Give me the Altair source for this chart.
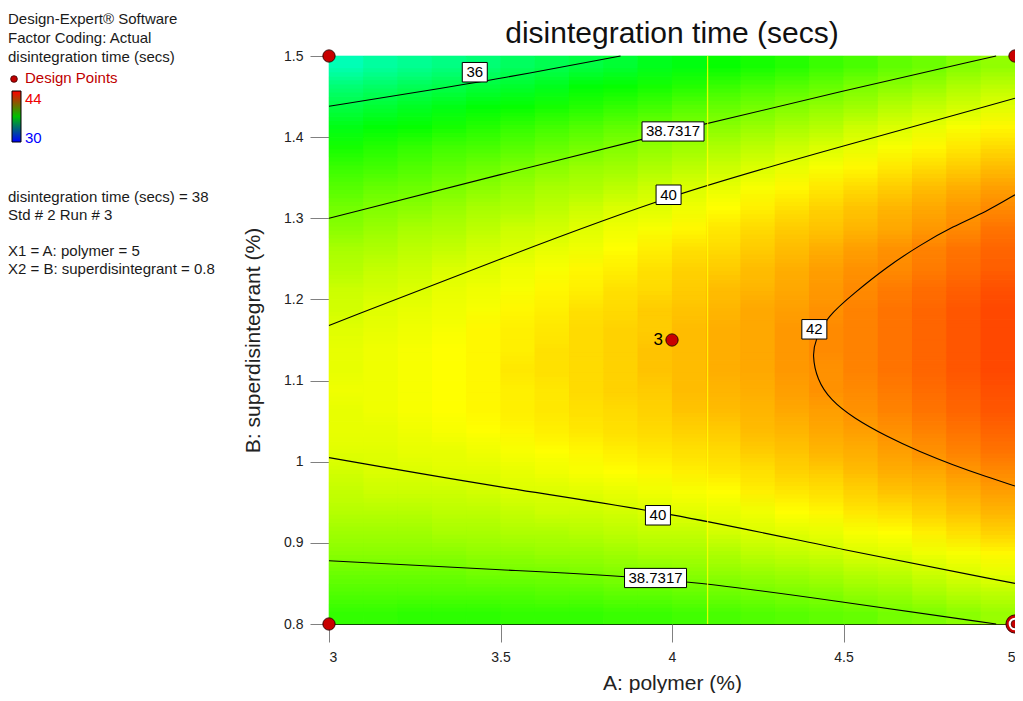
import altair as alt
import pandas as pd

# ---------------- data ----------------
# cell edges of the response-surface raster
A_EDGES = [3.0, 3.1, 3.2, 3.3, 3.4, 3.5, 3.6, 3.7, 3.8, 3.9, 4.0,
           4.1, 4.2, 4.3, 4.4, 4.5, 4.6, 4.7, 4.8, 4.9, 5.0]
B_EDGES = [0.8, 0.825, 0.85, 0.875, 0.9, 0.925, 0.95, 0.975, 1.0, 1.025,
           1.05, 1.075, 1.1, 1.125, 1.15, 1.175, 1.2, 1.225, 1.25, 1.275,
           1.3, 1.325, 1.35, 1.375, 1.4, 1.425, 1.45, 1.475, 1.5]

# disintegration time (secs) per cell, rows = B (bottom to top), columns = A (left to right)
Z = [
    [37.7, 37.7, 37.6, 37.6, 37.6, 37.7, 37.7, 37.7, 37.8, 37.8, 37.9, 38.0, 38.1, 38.2, 38.3, 38.4, 38.6, 38.7, 38.9, 39.1],
    [38.1, 38.1, 38.1, 38.1, 38.1, 38.1, 38.2, 38.2, 38.3, 38.3, 38.4, 38.5, 38.6, 38.7, 38.8, 39.0, 39.1, 39.3, 39.5, 39.6],
    [38.5, 38.5, 38.5, 38.5, 38.6, 38.6, 38.6, 38.7, 38.8, 38.8, 38.9, 39.0, 39.1, 39.2, 39.3, 39.5, 39.6, 39.8, 40.0, 40.2],
    [38.9, 38.9, 38.9, 38.9, 39.0, 39.0, 39.1, 39.1, 39.2, 39.3, 39.3, 39.4, 39.6, 39.7, 39.8, 40.0, 40.1, 40.3, 40.4, 40.6],
    [39.2, 39.2, 39.2, 39.3, 39.3, 39.4, 39.4, 39.5, 39.6, 39.7, 39.7, 39.9, 40.0, 40.1, 40.2, 40.4, 40.5, 40.7, 40.9, 41.1],
    [39.5, 39.5, 39.5, 39.6, 39.6, 39.7, 39.8, 39.8, 39.9, 40.0, 40.1, 40.2, 40.3, 40.5, 40.6, 40.8, 40.9, 41.1, 41.3, 41.5],
    [39.7, 39.8, 39.8, 39.8, 39.9, 40.0, 40.0, 40.1, 40.2, 40.3, 40.4, 40.5, 40.7, 40.8, 40.9, 41.1, 41.3, 41.4, 41.6, 41.8],
    [39.9, 40.0, 40.0, 40.1, 40.1, 40.2, 40.3, 40.4, 40.5, 40.6, 40.7, 40.8, 40.9, 41.1, 41.2, 41.4, 41.6, 41.7, 41.9, 42.1],
    [40.1, 40.1, 40.2, 40.2, 40.3, 40.4, 40.5, 40.6, 40.7, 40.8, 40.9, 41.0, 41.2, 41.3, 41.5, 41.6, 41.8, 42.0, 42.2, 42.4],
    [40.2, 40.2, 40.3, 40.4, 40.5, 40.6, 40.7, 40.8, 40.9, 41.0, 41.1, 41.2, 41.4, 41.5, 41.7, 41.8, 42.0, 42.2, 42.4, 42.6],
    [40.2, 40.3, 40.4, 40.5, 40.6, 40.7, 40.8, 40.9, 41.0, 41.1, 41.3, 41.4, 41.5, 41.7, 41.8, 42.0, 42.2, 42.4, 42.6, 42.8],
    [40.3, 40.3, 40.4, 40.5, 40.6, 40.7, 40.8, 41.0, 41.1, 41.2, 41.4, 41.5, 41.6, 41.8, 42.0, 42.1, 42.3, 42.5, 42.7, 42.9],
    [40.2, 40.3, 40.4, 40.5, 40.6, 40.8, 40.9, 41.0, 41.1, 41.3, 41.4, 41.6, 41.7, 41.9, 42.0, 42.2, 42.4, 42.6, 42.8, 43.0],
    [40.2, 40.3, 40.4, 40.5, 40.6, 40.7, 40.9, 41.0, 41.1, 41.3, 41.4, 41.6, 41.7, 41.9, 42.1, 42.2, 42.4, 42.6, 42.8, 43.0],
    [40.1, 40.2, 40.3, 40.4, 40.6, 40.7, 40.8, 41.0, 41.1, 41.2, 41.4, 41.6, 41.7, 41.9, 42.1, 42.2, 42.4, 42.6, 42.8, 43.0],
    [39.9, 40.1, 40.2, 40.3, 40.4, 40.6, 40.7, 40.9, 41.0, 41.2, 41.3, 41.5, 41.7, 41.8, 42.0, 42.2, 42.4, 42.6, 42.8, 43.0],
    [39.8, 39.9, 40.0, 40.2, 40.3, 40.4, 40.6, 40.7, 40.9, 41.0, 41.2, 41.4, 41.5, 41.7, 41.9, 42.1, 42.3, 42.5, 42.7, 42.9],
    [39.5, 39.7, 39.8, 40.0, 40.1, 40.3, 40.4, 40.6, 40.7, 40.9, 41.1, 41.2, 41.4, 41.6, 41.8, 42.0, 42.1, 42.3, 42.5, 42.7],
    [39.3, 39.4, 39.6, 39.7, 39.9, 40.0, 40.2, 40.3, 40.5, 40.7, 40.9, 41.0, 41.2, 41.4, 41.6, 41.8, 42.0, 42.2, 42.4, 42.6],
    [38.9, 39.1, 39.3, 39.4, 39.6, 39.8, 39.9, 40.1, 40.3, 40.4, 40.6, 40.8, 41.0, 41.2, 41.3, 41.5, 41.7, 41.9, 42.1, 42.4],
    [38.6, 38.8, 38.9, 39.1, 39.3, 39.4, 39.6, 39.8, 40.0, 40.1, 40.3, 40.5, 40.7, 40.9, 41.1, 41.3, 41.5, 41.7, 41.9, 42.1],
    [38.2, 38.4, 38.5, 38.7, 38.9, 39.1, 39.3, 39.4, 39.6, 39.8, 40.0, 40.2, 40.4, 40.6, 40.8, 41.0, 41.2, 41.4, 41.6, 41.8],
    [37.8, 37.9, 38.1, 38.3, 38.5, 38.7, 38.9, 39.1, 39.2, 39.4, 39.6, 39.8, 40.0, 40.2, 40.4, 40.6, 40.8, 41.0, 41.2, 41.4],
    [37.3, 37.5, 37.7, 37.9, 38.0, 38.2, 38.4, 38.6, 38.8, 39.0, 39.2, 39.4, 39.6, 39.8, 40.0, 40.2, 40.4, 40.6, 40.8, 41.0],
    [36.7, 36.9, 37.1, 37.3, 37.5, 37.7, 37.9, 38.1, 38.3, 38.5, 38.7, 38.9, 39.1, 39.3, 39.5, 39.8, 40.0, 40.2, 40.4, 40.6],
    [36.1, 36.3, 36.5, 36.7, 36.9, 37.1, 37.3, 37.5, 37.7, 37.9, 38.2, 38.4, 38.6, 38.8, 39.0, 39.2, 39.5, 39.7, 39.9, 40.1],
    [35.4, 35.6, 35.8, 36.0, 36.2, 36.4, 36.6, 36.9, 37.1, 37.3, 37.5, 37.8, 38.0, 38.2, 38.4, 38.7, 38.9, 39.1, 39.4, 39.6],
    [34.5, 34.8, 35.0, 35.2, 35.4, 35.7, 35.9, 36.1, 36.3, 36.6, 36.8, 37.1, 37.3, 37.5, 37.8, 38.0, 38.3, 38.5, 38.8, 39.0],
]

# contour lines (A, B)
C36_A = [3.0, 3.25, 3.5, 3.85]
C36_B = [1.438, 1.455, 1.472, 1.5]
C387U_A = [3.0, 3.5, 4.0, 4.5, 4.945]
C387U_B = [1.300, 1.354, 1.407, 1.457, 1.5]
C40U_A = [3.0, 3.5, 4.0, 4.5, 5.0]
C40U_B = [1.168, 1.250, 1.330, 1.389, 1.448]
C40L_A = [3.0, 3.5, 4.0, 4.5, 5.0]
C40L_B = [1.005, 0.968, 0.937, 0.891, 0.850]
C387L_A = [3.0, 3.5, 4.0, 4.5, 4.945]
C387L_B = [0.878, 0.8665, 0.857, 0.827, 0.8]
C42_A = [5.0, 4.916, 4.819, 4.723, 4.626, 4.530, 4.452, 4.418, 4.409,
         4.423, 4.462, 4.530, 4.626, 4.723, 4.819, 4.916, 5.0]
C42_B = [1.329, 1.308, 1.290, 1.267, 1.240, 1.2075, 1.179, 1.150, 1.1315,
         1.101, 1.076, 1.0535, 1.031, 1.012, 0.996, 0.9815, 0.970]

LABEL_TEXT = ["36", "38.7317", "40", "42", "40", "38.7317"]
LABEL_A = [3.425, 4.003, 3.99, 4.415, 3.959, 3.952]
LABEL_B = [1.480, 1.407, 1.329, 1.1632, 0.934, 0.8567]

DESIGN_A = [3.0, 5.0, 3.0, 5.0, 4.0]
DESIGN_B = [1.5, 1.5, 0.8, 0.8, 1.15]
RING_A = [5.0]
RING_B = [0.8]
CENTER_A = [4.0]
CENTER_B = [1.15]
CENTER_TEXT = ["3"]
CURSOR_A = [4.104]

LEGEND_MAX = "44"
LEGEND_MIN = "30"

# ---------------- tables ----------------
cells = pd.DataFrame([
    {"A": A_EDGES[j], "A2": A_EDGES[j + 1], "B": B_EDGES[i], "B2": B_EDGES[i + 1], "z": Z[i][j]}
    for i in range(len(B_EDGES) - 1) for j in range(len(A_EDGES) - 1)
])
# sub-row shifted copies of the same cells: painting them with opacities 1, 1/2, 1/3 ...
# gives each pixel the mean of the copies, i.e. a smooth (box-filtered) rendering of the raster
ROW_H = B_EDGES[1] - B_EDGES[0]
SHIFTS = [ROW_H / 5, -ROW_H / 5, 2 * ROW_H / 5, -2 * ROW_H / 5]
for k, s in enumerate(SHIFTS):
    cells[f"Bs{k}"] = cells["B"] + s
    cells[f"B2s{k}"] = cells["B2"] + s

rows = []
for name, aa, bb in [("36", C36_A, C36_B), ("387u", C387U_A, C387U_B), ("40u", C40U_A, C40U_B),
                     ("40l", C40L_A, C40L_B), ("387l", C387L_A, C387L_B), ("42", C42_A, C42_B)]:
    for i, (a, b) in enumerate(zip(aa, bb)):
        rows.append({"name": name, "i": i, "A": a, "B": b})
lines = pd.DataFrame(rows)

labels = pd.DataFrame({"A": LABEL_A, "B": LABEL_B, "t": LABEL_TEXT})
labels["long"] = labels["t"].str.len() > 2
design = pd.DataFrame({"A": DESIGN_A, "B": DESIGN_B})
ring = pd.DataFrame({"A": RING_A, "B": RING_B})
center = pd.DataFrame({"A": CENTER_A, "B": CENTER_B, "t": CENTER_TEXT})
cursor = pd.DataFrame({"A": CURSOR_A})

FONT = "Liberation Sans"
xs = alt.Scale(domain=[3, 5], nice=False, zero=False)
ys = alt.Scale(domain=[0.8, 1.5], nice=False, zero=False)
cs = alt.Scale(domain=[30, 33.5, 37, 40.5, 44],
               range=["#0000ff", "#00ffff", "#00ff00", "#ffff00", "#ff0000"],
               interpolate="rgb")

xaxis = alt.Axis(values=[3, 3.5, 4, 4.5, 5], format=".1~f", title="A: polymer (%)",
                 tickSize=18, labelPadding=8, titlePadding=8, grid=False, domain=False)
yaxis = alt.Axis(values=[0.8, 0.9, 1.0, 1.1, 1.2, 1.3, 1.4, 1.5], format=".1~f",
                 title="B: superdisintegrant (%)", tickSize=19, labelPadding=7,
                 titlePadding=20, grid=False, domain=False)

heat = alt.Chart(cells).mark_rect(strokeWidth=0.6).encode(
    x=alt.X("A:Q", scale=xs, axis=xaxis),
    x2="A2:Q",
    y=alt.Y("B:Q", scale=ys, axis=yaxis),
    y2="B2:Q",
    color=alt.Color("z:Q", scale=cs, legend=None),
    stroke=alt.Stroke("z:Q", scale=cs, legend=None),
)
smooth_layers = [
    alt.Chart(cells).mark_rect(opacity=1.0 / (k + 2), clip=True, strokeWidth=0).encode(
        x=alt.X("A:Q", scale=xs, axis=xaxis),
        x2="A2:Q",
        y=alt.Y(f"Bs{k}:Q", scale=ys, axis=yaxis),
        y2=f"B2s{k}:Q",
        color=alt.Color("z:Q", scale=cs, legend=None),
    )
    for k in range(len(SHIFTS))
]

cont = alt.Chart(lines).mark_line(color="black", strokeWidth=1.1, interpolate="basis").encode(
    x=alt.X("A:Q", scale=xs), y=alt.Y("B:Q", scale=ys), detail="name:N", order="i:Q")

cur = alt.Chart(cursor).mark_rule(color="#ffff00", strokeWidth=1).encode(x=alt.X("A:Q", scale=xs))

box_s = alt.Chart(labels).transform_filter("!datum.long").mark_point(
    shape="M-1,-0.78L1,-0.78L1,0.78L-1,0.78Z", size=625, filled=True, fill="white",
    stroke="black", strokeWidth=1, opacity=1).encode(
    x=alt.X("A:Q", scale=xs), y=alt.Y("B:Q", scale=ys))
box_l = alt.Chart(labels).transform_filter("datum.long").mark_point(
    shape="M-1,-0.31L1,-0.31L1,0.31L-1,0.31Z", size=3844, filled=True, fill="white",
    stroke="black", strokeWidth=1, opacity=1).encode(
    x=alt.X("A:Q", scale=xs), y=alt.Y("B:Q", scale=ys))
lab = alt.Chart(labels).mark_text(font=FONT, fontSize=15, color="black", baseline="middle").encode(
    x=alt.X("A:Q", scale=xs), y=alt.Y("B:Q", scale=ys), text="t:N")

pts = alt.Chart(design).mark_point(shape="circle", size=150, filled=True, fill="#c80000",
                                   stroke="#3a0000", strokeWidth=1, opacity=1).encode(
    x=alt.X("A:Q", scale=xs), y=alt.Y("B:Q", scale=ys))
ring_o = alt.Chart(ring).mark_point(shape="circle", size=330, filled=True, fill="#c80000",
                                    stroke="#3a0000", strokeWidth=1, opacity=1).encode(
    x=alt.X("A:Q", scale=xs), y=alt.Y("B:Q", scale=ys))
ring_w = alt.Chart(ring).mark_point(shape="circle", size=160, filled=True, fill="white",
                                    opacity=1).encode(
    x=alt.X("A:Q", scale=xs), y=alt.Y("B:Q", scale=ys))
ring_i = alt.Chart(ring).mark_point(shape="circle", size=60, filled=True, fill="#c80000",
                                    stroke="#3a0000", strokeWidth=0.8, opacity=1).encode(
    x=alt.X("A:Q", scale=xs), y=alt.Y("B:Q", scale=ys))
ctext = alt.Chart(center).mark_text(font=FONT, fontSize=17, align="right", dx=-9,
                                    baseline="middle", color="black").encode(
    x=alt.X("A:Q", scale=xs), y=alt.Y("B:Q", scale=ys), text="t:N")

# ---------------- annotation text + colour bar (left side) ----------------
ann_df = pd.DataFrame({"k": [0]})
ANN = [
    ("Design-Expert\u00ae Software", -321, -37, "#1a1a1a"),
    ("Factor Coding: Actual", -321, -18, "#1a1a1a"),
    ("disintegration time (secs)", -321, 1, "#1a1a1a"),
    ("Design Points", -304, 22, "#c00000"),
    (LEGEND_MAX, -304, 43, "#ee0000"),
    (LEGEND_MIN, -304, 82, "#0000ff"),
    ("disintegration time (secs) = 38", -321, 141, "#1a1a1a"),
    ("Std # 2 Run # 3", -321, 159, "#1a1a1a"),
    ("X1 = A: polymer = 5", -321, 195, "#1a1a1a"),
    ("X2 = B: superdisintegrant = 0.8", -321, 213, "#1a1a1a"),
]
ann_layers = [
    alt.Chart(ann_df).mark_text(text=t, x=x, y=y, color=col, font=FONT, fontSize=15,
                                align="left", baseline="middle").encode(opacity=alt.value(1))
    for (t, x, y, col) in ANN
]
dot = alt.Chart(ann_df).mark_point(shape="circle", size=45, filled=True, fill="#c00000",
                                   stroke="#3a0000", strokeWidth=0.8, opacity=1).encode(
    x=alt.value(-315), y=alt.value(23))
bar_fill = alt.LinearGradient(
    gradient="linear", x1=0, x2=0, y1=1, y2=0,
    stops=[alt.GradientStop(color="#0000ff", offset=0),
           alt.GradientStop(color="#00c000", offset=0.5),
           alt.GradientStop(color="#ff0000", offset=1)])
cbar = alt.Chart(ann_df).mark_rect(fill=bar_fill, stroke="black", strokeWidth=1).encode(
    x=alt.value(-317), x2=alt.value(-308), y=alt.value(35), y2=alt.value(86))

chart = alt.layer(heat, *smooth_layers, cont, cur, box_s, box_l, lab, pts, ring_o, ring_w,
                  ring_i, ctext, dot, cbar, *ann_layers).properties(
    width=686, height=568,
    autosize=alt.AutoSizeParams(type="none"),
    padding={"left": 321, "top": 48, "right": 0, "bottom": 69},
    title=alt.TitleParams("disintegration time (secs)", font=FONT, fontSize=30,
                          fontWeight="normal", color="#111111", anchor="middle",
                          offset=4, dy=41),
).configure_view(stroke="black", strokeWidth=1).configure_axis(
    labelFont=FONT, titleFont=FONT, labelFontSize=14, titleFontSize=21,
    titleFontWeight="normal", labelColor="#222222", titleColor="#222222",
    tickColor="#808080", tickWidth=1,
)

chart.save("out.html", embed_options={"renderer": "svg", "actions": False})
